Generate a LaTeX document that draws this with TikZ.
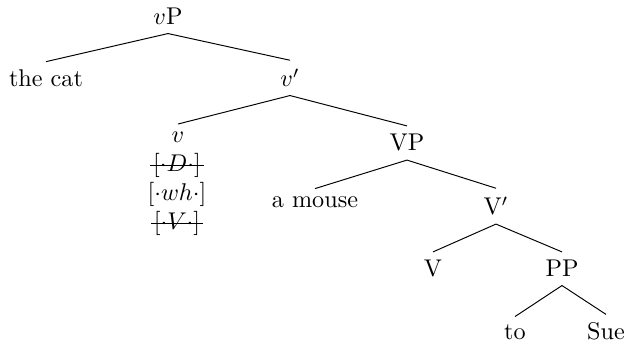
\documentclass[tikz,border=0pt]{standalone}
\usepackage{amsmath}
\usepackage{amssymb}

\tikzset{
  lbl/.style={anchor=base},
  feat/.style={anchor=base, inner xsep=1pt},
  branch/.style={line width=0.4pt}
}

\begin{document}
\begin{tikzpicture}[x=0.4132pt, y=-0.4132pt]

\useasboundingbox (0,0) rectangle (629,346);

% --- Top of the tree ---
\node[lbl] (vP) at (168,25) {$v$P};
\node[lbl] (cat) at (46,87) {the cat};
\node[lbl] (vbar) at (290,87) {$v'$};

% --- Little v with its features ---
\node[lbl] (v) at (178,143) {$v$};
\node[feat] (featD) at (177,172) {$[\cdot D\cdot]$};
\node[feat] (featWh) at (177,201) {$[\cdot wh\cdot]$};
\node[feat] (featV) at (177,230) {$[\cdot V\cdot]$};
\draw (featD.west) -- (featD.east); % checked off
\draw (featV.west) -- (featV.east); % checked off

% --- VP ---
\node[lbl] (VP) at (407,151) {VP};
\node[lbl] (mouse) at (315,208) {a mouse};
\node[lbl] (Vbar) at (496,215) {V$'$};
\node[lbl] (V) at (433,277) {V};
\node[lbl] (PP) at (562,277) {PP};
\node[lbl] (to) at (515,340) {to};
\node[lbl] (Sue) at (606,340) {Sue};

% --- Branches ---
\draw[branch] (vP.south) -- (cat.north);
\draw[branch] (vP.south) -- (vbar.north);
\draw[branch] (vbar.south) -- (v.north);
\draw[branch] (vbar.south) -- (VP.north);
\draw[branch] (VP.south) -- (mouse.north);
\draw[branch] (VP.south) -- (Vbar.north);
\draw[branch] (Vbar.south) -- (V.north);
\draw[branch] (Vbar.south) -- (PP.north);
\draw[branch] (PP.south) -- (to.north);
\draw[branch] (PP.south) -- (Sue.north);

\end{tikzpicture}
\end{document}
